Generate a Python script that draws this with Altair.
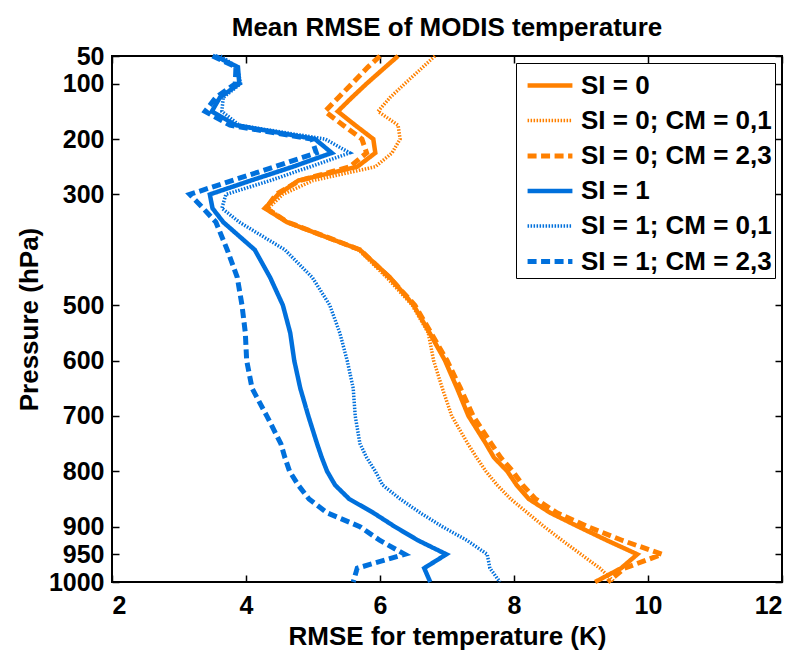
import altair as alt
import pandas as pd

# Pressure levels (hPa)
pressure = [50, 70, 100, 125, 150, 175, 200, 225, 250, 275, 300, 325, 350, 400, 450,
            500, 550, 600, 650, 700, 750, 775, 800, 825, 850, 875, 900, 925, 950, 975, 1000]

# RMSE (K) per series
si0 = [6.27, 6.08, 5.80, 5.58, 5.37, 5.63, 5.90, 5.93, 5.66, 4.78, 4.48, 4.28, 4.61, 5.70, 6.15,
       6.50, 6.74, 6.97, 7.15, 7.32, 7.58, 7.70, 7.90, 8.04, 8.22, 8.54, 8.96, 9.39, 9.84, 9.60, 9.21]
si0_cm01 = [6.82, 6.64, 6.37, 6.15, 5.97, 6.27, 6.30, 6.18, 5.93, 5.00, 4.55, 4.33, 4.62, 5.68, 6.10,
            6.48, 6.72, 6.80, 6.93, 7.07, 7.31, 7.44, 7.58, 7.75, 7.95, 8.20, 8.45, 8.72, 9.00, 9.28, 9.50]
si0_cm23 = [6.00, 5.82, 5.58, 5.38, 5.18, 5.45, 5.73, 5.80, 5.55, 4.80, 4.45, 4.30, 4.62, 5.70, 6.14,
            6.52, 6.76, 7.00, 7.20, 7.39, 7.66, 7.80, 7.98, 8.13, 8.32, 8.64, 9.10, 9.62, 10.21, 9.65, 9.40]
si1 = [3.54, 3.88, 3.90, 3.61, 3.49, 3.85, 5.03, 5.28, 4.70, 4.07, 3.46, 3.50, 3.66, 4.13, 4.36,
       4.55, 4.66, 4.72, 4.81, 4.93, 5.06, 5.13, 5.21, 5.33, 5.54, 5.90, 6.22, 6.57, 6.99, 6.66, 6.75]
si1_cm01 = [3.62, 3.87, 3.92, 3.66, 3.64, 3.90, 5.18, 5.55, 4.96, 4.36, 3.70, 3.64, 3.90, 4.58, 4.99,
            5.25, 5.40, 5.51, 5.60, 5.63, 5.70, 5.80, 5.93, 6.04, 6.30, 6.60, 6.93, 7.30, 7.60, 7.64, 7.79]
si1_cm23 = [3.50, 3.85, 3.84, 3.55, 3.39, 3.76, 4.98, 5.05, 4.43, 3.79, 3.16, 3.36, 3.55, 3.72, 3.87,
            3.94, 3.99, 4.01, 4.09, 4.31, 4.52, 4.58, 4.65, 4.78, 4.94, 5.21, 5.70, 6.00, 6.37, 5.66, 5.60]

series_names = ["SI = 0", "SI = 0; CM = 0,1", "SI = 0; CM = 2,3",
                "SI = 1", "SI = 1; CM = 0,1", "SI = 1; CM = 2,3"]
x_ticks = [2, 4, 6, 8, 10, 12]
y_ticks = [50, 100, 200, 300, 500, 600, 700, 800, 900, 950, 1000]

rows = []
for name, vals in zip(series_names, [si0, si0_cm01, si0_cm23, si1, si1_cm01, si1_cm23]):
    for p, v in zip(pressure, vals):
        rows.append({"series": name, "pressure": p, "rmse": v})
df = pd.DataFrame(rows)

ORANGE = "#ff8000"
BLUE = "#0070dc"
colors = [ORANGE] * 3 + [BLUE] * 3
dashes = [[1, 0], [1.5, 1.5], [9, 4.5]] * 2
widths = [4.5, 3.5, 5] * 2

FONT = "Liberation Sans"
W, H = 670, 526

xscale = alt.Scale(domain=[2, 12], nice=False, zero=False)
yscale = alt.Scale(domain=[50, 1000], reverse=True, nice=False, zero=False)

legend = alt.Legend(
    orient="top-right", offset=7, padding=3,
    fillColor="white", strokeColor="black",
    labelFont=FONT, labelFontSize=26, labelFontWeight="bold", labelColor="black",
    symbolType="M-1.3,0H1.3", symbolSize=1190, symbolOffset=11, labelOffset=11,
    rowPadding=2.5, labelLimit=400,
)

lines = alt.Chart(df).mark_line(strokeJoin="miter").encode(
    x=alt.X("rmse:Q", scale=xscale, title="RMSE for temperature (K)",
            axis=alt.Axis(orient="bottom", values=x_ticks, ticks=False, tickSize=0, domain=False,
                          grid=False, labelFont=FONT, labelFontSize=25, labelFontWeight="bold",
                          labelColor="black", labelPadding=11, format="d",
                          titleFont=FONT, titleFontSize=26, titleFontWeight="bold",
                          titleColor="black", titleBaseline="alphabetic", titleY=62)),
    y=alt.Y("pressure:Q", scale=yscale, title="Pressure (hPa)",
            axis=alt.Axis(orient="left", values=y_ticks, ticks=False, tickSize=0, domain=False,
                          grid=False, labelFont=FONT, labelFontSize=25, labelFontWeight="bold",
                          labelColor="black", labelPadding=8, format="d",
                          titleFont=FONT, titleFontSize=26, titleFontWeight="bold",
                          titleColor="black", titleBaseline="alphabetic", titleX=-75)),
    color=alt.Color("series:N", scale=alt.Scale(domain=series_names, range=colors),
                    legend=legend, title=None),
    strokeDash=alt.StrokeDash("series:N", scale=alt.Scale(type="ordinal", domain=series_names, range=dashes),
                              legend=legend, title=None),
    strokeWidth=alt.StrokeWidth("series:N", scale=alt.Scale(type="ordinal", domain=series_names, range=widths),
                                legend=legend, title=None),
    order=alt.Order("pressure:Q"),
)

tick_style = dict(labels=False, domain=False, grid=False, ticks=True, tickSize=7,
                  tickWidth=1.5, tickColor="black")

ticks_a = alt.Chart(df).mark_point(opacity=0).encode(
    x=alt.X("rmse:Q", scale=xscale, title=None,
            axis=alt.Axis(orient="top", offset=-H, values=x_ticks, **tick_style)),
    y=alt.Y("pressure:Q", scale=yscale, title=None,
            axis=alt.Axis(orient="right", offset=-W, values=y_ticks, **tick_style)),
)
ticks_b = alt.Chart(df).mark_point(opacity=0).encode(
    x=alt.X("rmse:Q", scale=xscale, title=None,
            axis=alt.Axis(orient="bottom", offset=-H, values=x_ticks, **tick_style)),
    y=alt.Y("pressure:Q", scale=yscale, title=None,
            axis=alt.Axis(orient="left", offset=-W, values=y_ticks, **tick_style)),
)

chart = alt.layer(lines, ticks_a, ticks_b).resolve_axis(
    x="independent", y="independent"
).properties(
    width=W, height=H,
    title=alt.Title("Mean RMSE of MODIS temperature", font=FONT, fontSize=26,
                    fontWeight="bold", color="black", anchor="middle",
                    baseline="alphabetic", offset=10, dy=28),
    autosize=alt.AutoSizeParams(type="none"),
    padding={"left": 112, "top": 56, "right": 14, "bottom": 69},
    background="white",
).configure_view(stroke="black", strokeWidth=2)

chart.save("out.html", embed_options={"renderer": "svg", "actions": False})
